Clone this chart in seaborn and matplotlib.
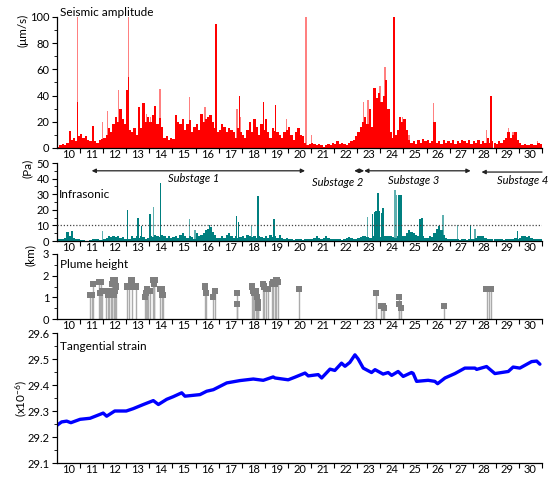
import numpy as np
import matplotlib
matplotlib.use("Agg")
import matplotlib.pyplot as plt
import seaborn as sns
from matplotlib.ticker import MultipleLocator, FixedLocator

sns.set_theme(style="ticks")
plt.rcParams["font.family"] = ["Lato", "DejaVu Sans"]
plt.rcParams["mathtext.fontset"] = "custom"
plt.rcParams["mathtext.rm"] = "Lato"
plt.rcParams["mathtext.it"] = "Lato:italic"
for k in ["text.color", "axes.labelcolor", "xtick.color", "ytick.color", "axes.edgecolor"]:
    plt.rcParams[k] = "black"

# ---------------- data ----------------
days = list(range(10, 31))
bin_start = 9.5
bin_step = 0.1

# seismic amplitude (um/s), 0.1-day bins from 9.5 to 30.5
seis_base = [
    1, 2, 3, 2, 4, 13, 6, 8, 5, 9,
    11, 8, 9, 6, 5, 17, 5, 4, 6, 7,
    8, 10, 15, 12, 18, 24, 20, 30, 22, 18,
    44, 14, 12, 15, 10, 31, 15, 34, 20, 24,
    20, 25, 32, 18, 23, 16, 8, 9, 6, 8,
    7, 25, 20, 18, 22, 14, 18, 21, 12, 16,
    18, 14, 26, 20, 22, 24, 25, 20, 15, 12,
    14, 18, 16, 12, 15, 14, 12, 8, 15, 12,
    10, 8, 14, 20, 12, 22, 16, 10, 18, 14,
    22, 12, 8, 15, 13, 12, 10, 8, 12, 14,
    16, 10, 6, 12, 15, 10, 9, 4, 2, 3,
    4, 3, 2, 3, 2, 1, 2, 3, 2, 4,
    3, 5, 3, 4, 3, 2, 4, 5, 6, 9,
    12, 16, 20, 24, 18, 30, 16, 46, 38, 42,
    35, 40, 52, 30, 12, 8, 10, 14, 24, 20,
    22, 14, 6, 4, 5, 3, 6, 4, 7, 5,
    6, 4, 5, 20, 4, 5, 3, 6, 4, 5,
    4, 6, 3, 5, 4, 6, 5, 4, 6, 3,
    5, 4, 6, 3, 5, 4, 8, 4, 5, 4,
    3, 5, 4, 6, 8, 12, 8, 10, 12, 6,
    4, 2, 3, 2, 2, 3, 2, 2, 4, 3,
]
seis_light_day = [10.4, 11.48, 11.68, 12.15, 12.6, 13.38, 13.55, 13.96, 15.23, 15.9,
                  17.3, 17.45, 19.45, 20.28, 20.53, 22.76, 22.97, 23.48, 23.7, 24.45,
                  24.74, 25.79, 28.1, 29.04, 29.25, 30.3]
seis_light_val = [100, 20, 28, 44, 100, 26, 24, 45, 39, 31,
                  30, 24, 22, 100, 10, 35, 37, 47, 62, 24,
                  10, 34, 14, 15, 12, 5]
seis_peak_day = [10.4, 12.6, 16.38, 17.39, 18.43, 18.97, 24.1, 28.29, 25.79]
seis_peak_val = [35, 54, 95, 40, 35, 33, 100, 40, 20]

# infrasonic (Pa), 0.1-day bins
infra_base = [
    1, 1.5, 1, 2, 6, 3, 6.5, 2, 1, 1,
    0.5, 0.5, 0.3, 0.3, 0.5, 1, 1.5, 1, 0.5, 0.5,
    1, 2, 3, 2.5, 3, 2.5, 3, 2, 2.5, 1.5,
    1, 1.5, 3, 2, 3.5, 2, 3, 2.5, 1.5, 2,
    3, 2.5, 4, 3, 2.5, 4, 3.5, 2, 3, 2,
    2.5, 3, 2, 4, 5, 3, 2, 3, 2.5, 1.5,
    5, 3, 4, 5, 7, 8, 9, 6, 4, 2,
    2, 3, 2, 4, 5, 3, 2, 3, 2, 2.5,
    3, 2, 4, 3, 2.5, 3, 2, 3, 2.5, 2,
    3, 2, 4, 2.5, 3, 2, 4, 2, 1.5, 2,
    1.5, 1, 0.8, 1, 1.2, 1, 0.8, 1, 1.2, 1,
    1.5, 2, 3, 2, 1.5, 2, 3, 2, 1.5, 1,
    1, 1.2, 1, 0.8, 1, 2, 2.5, 2, 1.5, 1.5,
    2, 2.5, 3, 3, 2.5, 2, 2, 3, 2.5, 2,
    2.5, 3, 3, 3.5, 3, 2.5, 2, 3, 2.5, 3,
    3, 5, 7, 6, 5, 4, 3, 4, 3, 2,
    2, 3, 2.5, 5, 8, 9.5, 7, 4, 2, 1.5,
    1.5, 1, 1.2, 1, 0.8, 1, 1, 0.8, 1, 1.2,
    1, 2, 3, 3.5, 3, 2, 1.5, 1, 1.2, 1,
    1, 1.2, 1, 0.8, 1, 1, 1.2, 1, 2, 1.5,
    2, 3.5, 3, 2.5, 3, 2, 1.5, 1, 1.2, 1,
]
infra_peak_day = [12.54, 13.0, 13.17, 13.53, 13.97, 16.1, 17.28, 17.36, 18.21, 18.9,
                  23.17, 23.25, 23.32, 23.4, 23.47, 23.55, 23.62, 24.3, 24.4, 25.21,
                  25.3, 27.41, 29.44]
infra_peak_val = [20, 14.7, 9.8, 17.3, 37.5, 10, 16, 12.5, 28.6, 13.8,
                  17.5, 18.5, 19, 31, 19, 18, 21, 29.3, 29.3, 14,
                  14.6, 10, 6.5]
infra_light_day = [11.48, 13.68, 15.23, 15.47, 17.93, 22.95, 24.13, 24.2, 26.22, 26.85, 27.6]
infra_light_val = [6.5, 22, 14, 7, 9.7, 15.5, 33, 29.3, 16.5, 10, 8]
infra_threshold = 10

# plume height (km)
plume_day = [10.93, 11.0, 11.07, 11.33, 11.4, 11.36, 11.45, 11.6, 11.72, 11.75,
             11.85, 11.9, 11.95, 12.0, 12.02, 12.05, 11.98, 12.52, 12.6, 12.73,
             12.9, 13.3, 13.35, 13.4, 13.45, 13.52, 13.67, 13.72, 13.7, 13.96,
             14.05, 14.07, 15.91, 15.95, 16.27, 16.33, 17.3, 17.3, 17.95, 18.0,
             18.05, 18.1, 18.17, 18.22, 18.2, 18.42, 18.47, 18.55, 18.65, 18.8,
             18.85, 18.94, 19.0, 19.05, 19.98, 23.31, 23.55, 23.62, 23.65, 24.32,
             24.32, 24.38, 26.25, 28.1, 28.2, 28.3]
plume_km = [1.1, 1.1, 1.6, 1.7, 1.7, 1.2, 1.3, 1.3, 1.1, 1.3,
            1.2, 1.6, 1.8, 1.8, 1.3, 1.5, 1.1, 1.5, 1.5, 1.8,
            1.5, 1.0, 1.2, 1.4, 1.3, 1.3, 1.8, 1.8, 1.6, 1.4,
            1.4, 1.1, 1.5, 1.2, 1.0, 1.3, 1.2, 0.7, 1.5, 1.3,
            1.2, 1.3, 1.0, 0.5, 0.8, 1.6, 1.5, 1.4, 1.4, 1.6,
            1.7, 1.6, 1.8, 1.7, 1.4, 1.2, 0.6, 0.6, 0.5, 1.0,
            0.7, 0.5, 0.6, 1.4, 1.4, 1.4]

# tangential strain (x10^-6)
strain_day = [9.5, 9.7, 9.92, 10.1, 10.5, 10.93, 11.36, 11.5, 11.65, 12.0,
              12.5, 12.8, 13.24, 13.67, 13.89, 14.25, 14.53, 14.9, 15.04, 15.69,
              15.98, 16.27, 16.85, 17.42, 18.0, 18.43, 18.86, 18.94, 19.51, 19.8,
              20.24, 20.38, 20.81, 20.96, 21.32, 21.53, 21.82, 21.97, 22.18, 22.4,
              22.54, 22.76, 23.12, 23.27, 23.62, 23.84, 23.99, 24.27, 24.49, 24.85,
              24.92, 25.07, 25.57, 25.86, 25.98, 26.3, 26.73, 27.16, 27.6, 27.67,
              28.1, 28.46, 29.04, 29.25, 29.54, 30.05, 30.27, 30.41]
strain_val = [29.245, 29.258, 29.261, 29.255, 29.268, 29.272, 29.287, 29.292, 29.28, 29.3,
              29.3, 29.309, 29.325, 29.34, 29.325, 29.345, 29.355, 29.37, 29.357, 29.363,
              29.376, 29.382, 29.408, 29.417, 29.423, 29.418, 29.431, 29.427, 29.42, 29.43,
              29.446, 29.435, 29.44, 29.427, 29.461, 29.456, 29.484, 29.472, 29.487, 29.516,
              29.5, 29.465, 29.448, 29.459, 29.442, 29.448, 29.437, 29.452, 29.433, 29.448,
              29.445, 29.414, 29.418, 29.414, 29.405, 29.427, 29.444, 29.465, 29.465, 29.46,
              29.471, 29.444, 29.452, 29.469, 29.465, 29.49, 29.492, 29.48]

substages = ["Substage 1", "Substage 2", "Substage 3", "Substage 4"]

# ---------------- figure ----------------
W, H = 555, 479
fig = plt.figure(figsize=(W / 100, H / 100), dpi=100)


def px_axes(top, bottom):
    return fig.add_axes([57 / W, 1 - bottom / H, (542 - 57) / W, (bottom - top) / H])


ax1 = px_axes(17, 148)
ax2 = px_axes(163, 241)
ax3 = px_axes(254, 319)
ax4 = px_axes(333, 463)

FS = 8


def style(ax, ymin, ymax, major, minor):
    sns.despine(ax=ax)
    ax.set_facecolor("none")
    ax.set_xlim(9.5, 30.5)
    ax.set_ylim(ymin, ymax)
    ax.set_xticks(days)
    ax.set_xticklabels([str(d) for d in days])
    ax.xaxis.set_minor_locator(FixedLocator(np.arange(10.5, 30.6, 1.0)))
    ax.yaxis.set_major_locator(MultipleLocator(major))
    ax.yaxis.set_minor_locator(MultipleLocator(minor))
    ax.tick_params(axis="x", which="major", length=0, pad=1, labelsize=FS)
    ax.tick_params(axis="x", which="minor", length=3.5, width=0.8, direction="out")
    ax.tick_params(axis="y", which="major", length=3.5, width=0.8, labelsize=FS, pad=2)
    ax.tick_params(axis="y", which="minor", length=2, width=0.6)
    for s in ["left", "bottom"]:
        ax.spines[s].set_linewidth(0.9)
        ax.spines[s].set_color("black")


nb = len(seis_base)
bin_left = bin_start + bin_step * np.arange(nb)

# seismic
ax1.bar(seis_light_day, seis_light_val, width=0.06, color="#ff8080", linewidth=0, zorder=1)
ax1.bar(bin_left, seis_base, width=bin_step, align="edge", color="#ff0000", linewidth=0, zorder=2)
ax1.bar(seis_peak_day, seis_peak_val, width=0.06, color="#ff0000", linewidth=0, zorder=2)
style(ax1, 0, 100, 20, 10)

# infrasonic
ax2.bar(infra_light_day, infra_light_val, width=0.06, color="#5fb0b0", linewidth=0, zorder=1)
ax2.bar(bin_left, infra_base, width=bin_step, align="edge", color="#007f7f", linewidth=0, zorder=2)
ax2.bar(infra_peak_day, infra_peak_val, width=0.06, color="#007f7f", linewidth=0, zorder=2)
ax2.axhline(infra_threshold, color="#444444", linestyle=(0, (1, 1.5)), linewidth=0.9, zorder=3)
style(ax2, 0, 50, 10, 5)

arrow_kw = dict(color="#222222", lw=0.9, shrinkA=0, shrinkB=0, mutation_scale=6)
ax2.annotate("", xy=(20.24, 45), xytext=(11.0, 45), arrowprops=dict(arrowstyle="<|-|>", **arrow_kw))
ax2.annotate("", xy=(22.8, 45), xytext=(22.37, 45), arrowprops=dict(arrowstyle="<|-|>", **arrow_kw))
ax2.annotate("", xy=(27.41, 45), xytext=(22.8, 45), arrowprops=dict(arrowstyle="<|-|>", **arrow_kw))
ax2.annotate("", xy=(27.88, 44.2), xytext=(30.5, 44.2), annotation_clip=False,
             arrowprops=dict(arrowstyle="-|>", **arrow_kw))
ax2.text(15.43, 40.2, substages[0], ha="center", va="center", fontsize=FS, style="italic")
ax2.text(21.66, 37.4, substages[1], ha="center", va="center", fontsize=FS, style="italic")
ax2.text(24.95, 39.1, substages[2], ha="center", va="center", fontsize=FS, style="italic")
ax2.text(28.53, 39.1, substages[3], ha="left", va="center", fontsize=FS, style="italic", clip_on=False)

# plume
ax3.vlines(plume_day, 0, plume_km, colors="#ababab", linewidth=1.0, zorder=1)
sns.scatterplot(x=plume_day, y=plume_km, marker="s", s=20, color="#7f7f7f",
                edgecolor="none", ax=ax3, zorder=2, legend=False)
style(ax3, 0, 3, 1, 0.5)

# strain
sns.lineplot(x=strain_day, y=strain_val, ax=ax4, color="#0000ff", linewidth=2.4,
             sort=False, estimator=None)
style(ax4, 29.1, 29.6, 0.1, 0.05)
ax4.yaxis.set_major_formatter(matplotlib.ticker.FormatStrFormatter("%.1f"))

for ax in (ax1, ax2, ax3, ax4):
    ax.set_xlabel("")
    ax.set_ylabel("")

# titles and y labels
fig.text(60 / W, 1 - 13 / H, "Seismic amplitude", fontsize=FS + 0.5, va="center", ha="left")
fig.text(59 / W, 1 - 194 / H, "Infrasonic", fontsize=FS + 0.5, va="center", ha="left")
fig.text(60 / W, 1 - 265 / H, "Plume height", fontsize=FS + 0.5, va="center", ha="left")
fig.text(60 / W, 1 - 346 / H, "Tangential strain", fontsize=FS + 0.5, va="center", ha="left")

fig.text(23 / W, 1 - 30 / H, "(\u03bcm/s)", fontsize=FS + 0.5, rotation=90, va="center", ha="center")
fig.text(27 / W, 1 - 168 / H, "(Pa)", fontsize=FS + 0.5, rotation=90, va="center", ha="center")
fig.text(30 / W, 1 - 255 / H, "(km)", fontsize=FS + 0.5, rotation=90, va="center", ha="center")
fig.text(21 / W, 1 - 398 / H, r"(x10$^{-6}$)", fontsize=FS + 0.5, rotation=90, va="center", ha="center")

fig.savefig("out.png", dpi=100)
